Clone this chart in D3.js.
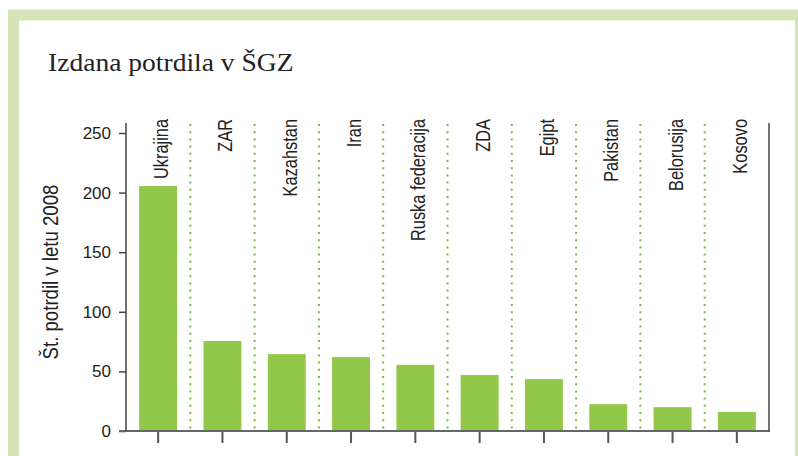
<!DOCTYPE html>
<html>
<head>
<meta charset="utf-8">
<script src="https://cdn.jsdelivr.net/npm/d3@7"></script>
<style>
  body { margin: 0; background: #fff; }
  svg { display: block; }
</style>
</head>
<body>
<script>
// data
var countries = ["Ukrajina", "ZAR", "Kazahstan", "Iran", "Ruska federacija",
                 "ZDA", "Egipt", "Pakistan", "Belorusija", "Kosovo"];
var certificates = [205.5, 75.5, 64.5, 62, 55.5, 47, 43.5, 22.5, 20, 16];
var yTicks = [0, 50, 100, 150, 200, 250];
var title = "Izdana potrdila v ŠGZ";
var yTitle = "Št. potrdil v letu 2008";

var widthSvg = 798;
var heightSvg = 456;
var plotLeft = 126, plotRight = 769, plotTop = 123, plotBottom = 431;
var sansFont = "'Liberation Sans', Arial, sans-serif";

var svg = d3.select("body")
            .append("svg")
            .attr("width", widthSvg)
            .attr("height", heightSvg);

// light green frame around the panel
svg.append("rect")
   .attr("x", 13.5)
   .attr("y", 15)
   .attr("width", 787)
   .attr("height", 460)
   .attr("fill", "none")
   .attr("stroke", "#d3e5b6")
   .attr("stroke-width", 11);

svg.append("text")
   .attr("transform", "translate(48,71) scale(1.06,1)")
   .attr("font-family", "'Liberation Serif', serif")
   .attr("font-size", 26)
   .attr("fill", "#222")
   .text(title);

// scales
var scaleX = d3.scaleBand()
               .domain(countries)
               .range([plotLeft, plotRight])
               .paddingInner(0.41)
               .paddingOuter(0.205);
var scaleY = d3.scaleLinear()
               .domain([0, 250])
               .range([plotBottom, 133]);

var step = scaleX.step();
var gap = (step - scaleX.bandwidth()) / 2;

// dotted separators between the countries
svg.selectAll("line.sep")
   .data(countries.slice(1))
   .enter()
   .append("line")
   .attr("class", "sep")
   .attr("x1", function(d) { return scaleX(d) - gap; })
   .attr("x2", function(d) { return scaleX(d) - gap; })
   .attr("y1", plotTop + 1)
   .attr("y2", plotBottom - 1)
   .attr("stroke", "#7db547")
   .attr("stroke-width", 2)
   .attr("stroke-dasharray", "2,5.2");

// bars
svg.selectAll("rect.bar")
   .data(certificates)
   .enter()
   .append("rect")
   .attr("class", "bar")
   .attr("x", function(d, i) { return scaleX(countries[i]); })
   .attr("y", function(d) { return scaleY(d); })
   .attr("width", scaleX.bandwidth())
   .attr("height", function(d) { return plotBottom - scaleY(d); })
   .attr("fill", "#92c84a");

// country names, written upwards from the top of the plot (condensed)
svg.selectAll("text.country")
   .data(countries)
   .enter()
   .append("text")
   .attr("class", "country")
   .attr("transform", function(d) {
       return "translate(" + (scaleX(d) + scaleX.bandwidth() / 2 + 10) + ",119) rotate(-90) scale(0.82,1)";
   })
   .attr("text-anchor", "end")
   .attr("font-family", sansFont)
   .attr("font-size", 20)
   .attr("fill", "#222")
   .text(function(d) { return d; });

// y axis
var yAxis = d3.axisLeft(scaleY)
              .tickValues(yTicks)
              .tickSize(7)
              .tickPadding(8);
var gy = svg.append("g")
            .attr("transform", "translate(" + plotLeft + ",0)")
            .call(yAxis);
gy.select(".domain").remove();
gy.selectAll(".tick line").attr("stroke", "#444").attr("stroke-width", 1.5);
gy.selectAll(".tick text")
  .attr("font-family", sansFont)
  .attr("font-size", 17)
  .attr("fill", "#222");

// x axis ticks below the baseline
var xAxis = d3.axisBottom(scaleX).tickSize(12).tickFormat("");
var gx = svg.append("g")
            .attr("transform", "translate(0," + plotBottom + ")")
            .call(xAxis);
gx.select(".domain").remove();
gx.selectAll(".tick line").attr("stroke", "#555").attr("stroke-width", 2);

// frame lines of the plot
svg.append("line")
   .attr("x1", 119).attr("x2", plotRight + 1)
   .attr("y1", plotBottom).attr("y2", plotBottom)
   .attr("stroke", "#666").attr("stroke-width", 2);
svg.append("line")
   .attr("x1", plotLeft).attr("x2", plotLeft)
   .attr("y1", plotTop).attr("y2", plotBottom)
   .attr("stroke", "#444").attr("stroke-width", 1.5);
svg.append("line")
   .attr("x1", plotRight).attr("x2", plotRight)
   .attr("y1", plotTop).attr("y2", plotBottom)
   .attr("stroke", "#444").attr("stroke-width", 1.5);

// y axis title
svg.append("text")
   .attr("transform", "translate(58,272) rotate(-90) scale(0.81,1)")
   .attr("text-anchor", "middle")
   .attr("font-family", sansFont)
   .attr("font-size", 23)
   .attr("fill", "#222")
   .text(yTitle);
</script>
</body>
</html>
